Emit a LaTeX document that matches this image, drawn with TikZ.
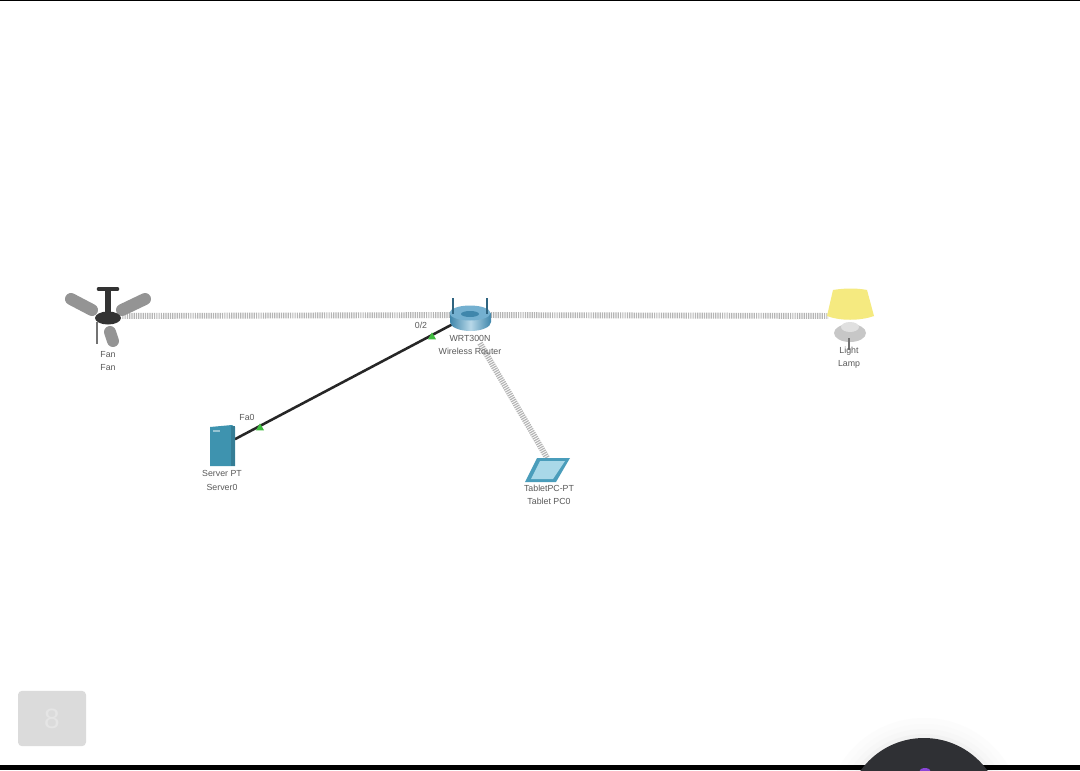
\documentclass[tikz,border=0pt]{standalone}
\usepackage{fontspec}
\setmainfont{Liberation Sans}
\usetikzlibrary{shapes.geometric}
\definecolor{lbl}{HTML}{5A5A5A}
\definecolor{wire}{HTML}{B4B4B4}
\definecolor{routerblue}{HTML}{7DB8D6}
\definecolor{routerdark}{HTML}{3F86AB}
\definecolor{serverblue}{HTML}{3E93AF}
\definecolor{lampyellow}{HTML}{F5EA80}
\definecolor{tabletedge}{HTML}{4A9DBB}
\definecolor{tabletface}{HTML}{A9D8E8}
\definecolor{roundbtn}{HTML}{2F3034}
\definecolor{dotviolet}{HTML}{8A45D8}
\tikzset{
  x=0.75pt,y=-0.75pt,
  devlabel/.style={font=\fontsize{6.6pt}{7pt}\selectfont,text=lbl,inner sep=0pt},
  anchorbox/.style={inner sep=0pt,minimum width=#1,minimum height=#1},
  wireless/.style={draw=wire,line width=4.4pt,dash pattern=on 0.9pt off 0.8pt},
  wired/.style={draw=black!85,line width=1.9pt},
  port/.style={fill=green!65!black!75,draw=none,regular polygon,regular polygon sides=3,inner sep=0pt,minimum size=7pt},
  blade/.style={draw=black!42,line width=9pt,line cap=round},
}
\begin{document}
\begin{tikzpicture}
\useasboundingbox (0,0) rectangle (1080,770);
\fill[white] (0,0) rectangle (1080,770);
\fill[black] (0,0) rectangle (1080,1.2);
\fill[black] (0,765) rectangle (1080,770);
% device anchors
\node[anchorbox=21pt] (fan) at (108,316) {};
\node[anchorbox=24pt] (router) at (470,315) {};
\node[anchorbox=30pt] (lamp) at (849,316) {};
\node[inner sep=0pt,minimum width=19pt,minimum height=31pt] (server) at (222,446) {};
\node[inner sep=0pt,minimum width=34pt,minimum height=18pt] (tablet) at (547,470) {};
% connectors
\draw[wireless] (fan) -- (router);
\draw[wireless] (router) -- (lamp);
\draw[wireless] (router.south) ++(10,12) coordinate (rt) (rt) -- (tablet.north);
\draw[wired] (server) -- (router);
\node[port] (p1) at (432,337) {};
\node[port] (p2) at (260,428) {};
% fan icon
\draw[blade] (71,299) -- (92,310);
\draw[blade] (145,299) -- (122,310);
\draw[blade] (110,332) -- (113,341);
\draw[black!55,line width=0.9pt] (97,322) -- (97,344);
\draw[black!80,line width=4.5pt] (108,290) -- (108,314);
\draw[black!80,line width=3.5pt,line cap=round] (99,289) -- (117,289);
\fill[black!80] (108,318) ellipse [x radius=13,y radius=6.5];
% router icon
\shade[left color=routerdark,right color=routerdark,middle color=white!45!routerblue]
  (450,313) -- (450,322) arc[start angle=180,end angle=0,x radius=20.5,y radius=9] -- (491,313) -- cycle;
\fill[routerblue!85!routerdark] (470,313) ellipse [x radius=20.5,y radius=7.5];
\fill[routerdark] (470,314) ellipse [x radius=9,y radius=3];
\draw[black!25!routerdark,line width=1.6pt] (453,298) -- (453,314);
\draw[black!25!routerdark,line width=1.6pt] (487,298) -- (487,314);
% lamp icon
\fill[lampyellow] (833,290) .. controls (845,288) and (857,288) .. (867,290)
  -- (874,316) .. controls (860,321) and (840,321) .. (827,316) -- cycle;
\fill[black!22] (850,333) ellipse [x radius=16,y radius=9];
\fill[black!12] (850,327) ellipse [x radius=9,y radius=5];
\draw[black!55,line width=1pt] (849,338) -- (849,350);
% server icon
\fill[serverblue] (210,427) -- (232,425) -- (235,427) -- (235,466) -- (210,466) -- cycle;
\fill[black!15!serverblue] (231,426) rectangle (235,466);
\fill[white!45!serverblue] (213,430) rectangle (220,432);
% tablet icon
\fill[tabletedge] (537,458) -- (570,458) -- (556,482) -- (525,482) -- cycle;
\fill[tabletface] (540,461) -- (565,461) -- (553,479) -- (531,479) -- cycle;
% labels
\node[devlabel] (l1) at (108,355) {Fan};
\node[devlabel] (l2) at (108,368) {Fan};
\node[devlabel] (l3) at (421,325) {0/2};
\node[devlabel] (l4) at (470,338) {WRT300N};
\node[devlabel] (l5) at (470,351) {Wireless Router};
\node[devlabel] (l6) at (849,351) {Light};
\node[devlabel] (l7) at (849,364) {Lamp};
\node[devlabel] (l8) at (247,417) {Fa0};
\node[devlabel] (l9) at (222,473) {Server PT};
\node[devlabel] (l10) at (222,487) {Server0};
\node[devlabel] (l11) at (549,488) {TabletPC-PT};
\node[devlabel] (l12) at (549,501) {Tablet PC0};
% overlay button
\node[draw=none,fill=black!14,rounded corners=3pt,inner sep=0pt,minimum width=51pt,minimum height=41.5pt,
  text=black!10,font=\fontsize{21pt}{22pt}\selectfont] (btn) at (52,718.5) {8};
% overlay round button with soft halo
\fill[black!1] (924,816) circle [radius=98];
\fill[black!2] (924,816) circle [radius=92];
\fill[black!3] (924,816) circle [radius=87];
\fill[black!5] (924,816) circle [radius=82];
\fill[black] (800,765) rectangle (1050,770);
\fill[roundbtn] (924,816) circle [radius=78];
\fill[dotviolet] (925,772) ellipse [x radius=6,y radius=4];
\end{tikzpicture}
\end{document}
